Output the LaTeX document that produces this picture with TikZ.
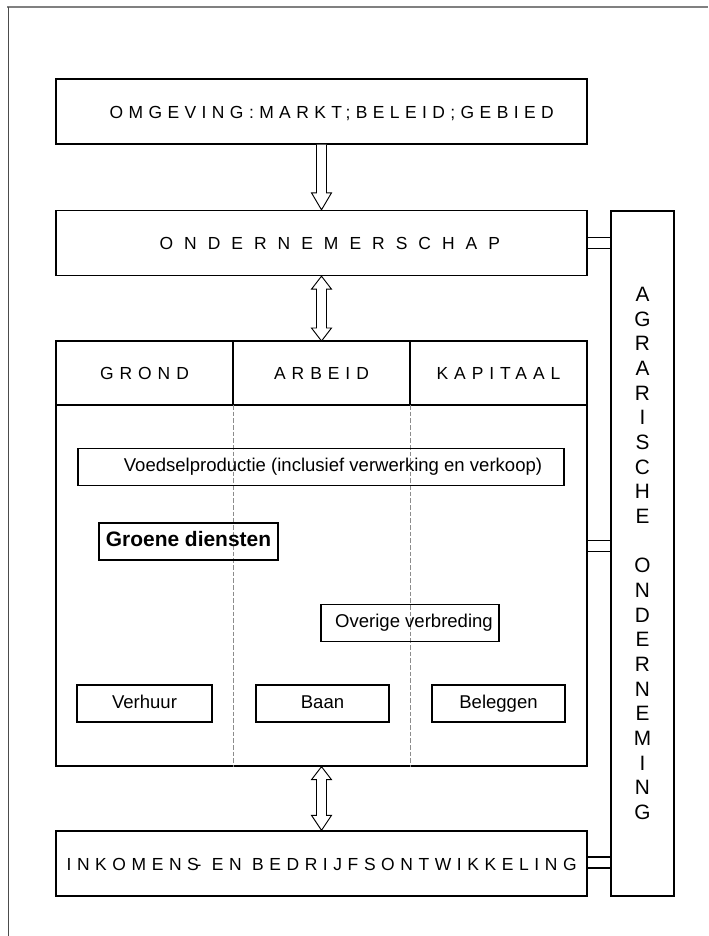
\documentclass[tikz,border=0pt]{standalone}
\usepackage{fontspec}
\setmainfont{Liberation Sans}
\usetikzlibrary{calc, positioning}
\definecolor{framegray}{RGB}{128,128,128}
\definecolor{dashgray}{RGB}{140,140,140}
\newcommand{\px}{0.75pt}
\newcommand{\capsfont}[1]{\fontsize{13.1pt}{15pt}\selectfont\addfontfeature{LetterSpace=#1}}
\newcommand{\plainfont}{\fontsize{13.9pt}{16pt}\selectfont}

\begin{document}
\begin{tikzpicture}[x=\px, y=-\px,
    box/.style={draw, line width=1pt, minimum width=531*\px, minimum height=65*\px, inner sep=0pt},
    cell/.style={draw, line width=1pt, minimum width=177*\px, minimum height=64*\px, inner sep=0pt, outer sep=0pt, font=\capsfont{34}},
    item/.style={draw, line width=0.9pt, minimum height=37*\px, inner sep=0pt, text height=0.72em, text depth=0pt, font=\plainfont},
    blockarrow/.style={draw, fill=white, line width=0.7pt, line join=miter},
    link/.style={draw, fill=white, line width=0.9pt},
    divider/.style={dashgray, line width=0.6pt, dash pattern=on 3.5pt off 1.5pt}]
    \useasboundingbox (0,0) rectangle (708,936);

    % page frame
    \draw[framegray, line width=1.5pt] (7,7) -- (708,7);
    \draw[black!70, line width=1pt] (8.5,7) -- (8.5,936);

    % main column
    \node[box] (omg) at (321.5,111.5) {};
    \node[anchor=base west, font=\capsfont{31}, inner sep=0pt] (omgtext) at ($(omg.west)+(54,6.5)$) {OMGEVING:MARKT;BELEID;GEBIED};

    \node[box] (ond) at (321.5,243) {};
    \node[anchor=base west, font=\capsfont{63}, inner sep=0pt] (ondtext) at ($(ond.west)+(104,6.5)$) {ONDERNEMERSCHAP};

    \node[cell] (grond) at (144.5,373) {GROND};
    \node[cell, right=0pt of grond] (arbeid) {ARBEID};
    \node[cell, right=0pt of arbeid] (kapitaal) {KAPITAAL};
    \node[draw, line width=1pt, minimum width=531*\px, minimum height=361*\px, inner sep=0pt] (body) at (321.5,585.5) {};

    \node[box] (ink) at (321.5,863.5) {};
    \node[anchor=base west, font=\capsfont{32}, inner sep=0pt] (inktext) at ($(ink.west)+(11,7)$) {INKOMENS\kern-2.5pt- EN BEDRIJFSONTWIKKELING};

    % columns inside the farm
    \draw[divider] (grond.south east) -- (grond.south east |- body.south);
    \draw[divider] (arbeid.south east) -- (arbeid.south east |- body.south);

    % activities
    \node[item, minimum width=486*\px] (voedsel) at (321,467) {\hspace{18pt}Voedselproductie (inclusief verwerking en verkoop)};
    \node[item, minimum width=179*\px, font=\fontsize{15.7pt}{18pt}\selectfont\bfseries] (groene) at (188.5,541.5) {Groene diensten};
    \node[item, minimum width=178*\px] (overige) at (410,623) {\hspace{6pt}Overige verbreding};
    \node[item, minimum width=135*\px] (verhuur) at (144.5,703.5) {Verhuur};
    \node[item, minimum width=133*\px] (baan) at (322.5,703.5) {Baan};
    \node[item, minimum width=133*\px] (beleggen) at (498.5,703.5) {Beleggen};

    % side bar
    \node[draw, line width=1pt, minimum width=63*\px, minimum height=685*\px, inner sep=0pt, align=center,
        font=\fontsize{15.6pt}{18.5pt}\selectfont] (agr) at (642.5,553.5)
        {A\\G\\R\\A\\R\\I\\S\\C\\H\\E\\[18.5pt]O\\N\\D\\E\\R\\N\\E\\M\\I\\N\\G};

    % links to the side bar
    \draw[link] ($(ond.east)+(0,-5.5)$) rectangle ($(ond.east -| agr.west)+(0,5.5)$);
    \draw[link] ($(body.east)+(0,-45)$) rectangle ($(body.east -| agr.west)+(0,-34)$);
    \draw[link] ($(ink.east)+(0,-6.5)$) rectangle ($(ink.east -| agr.west)+(0,4.5)$);

    % arrows
    \draw[blockarrow] ($(omg.south)+(-5,0)$) -- ($(ond.north)+(-5,-17)$) -- ++(-5,0) -- (ond.north)
        -- ++(10,-17) -- ++(-5,0) -- ($(omg.south)+(5,0)$);
    \draw[blockarrow] (ond.south) -- ++(10,13) -- ++(-5,0) -- ($(arbeid.north)+(5,-13)$) -- ++(5,0)
        -- (arbeid.north) -- ++(-10,-13) -- ++(5,0) -- ($(ond.south)+(-5,13)$) -- ++(-5,0) -- cycle;
    \draw[blockarrow] (body.south) -- ++(10,13) -- ++(-5,0) -- ($(ink.north)+(5,-15)$) -- ++(5,0)
        -- (ink.north) -- ++(-10,-15) -- ++(5,0) -- ($(body.south)+(-5,13)$) -- ++(-5,0) -- cycle;
\end{tikzpicture}
\end{document}
